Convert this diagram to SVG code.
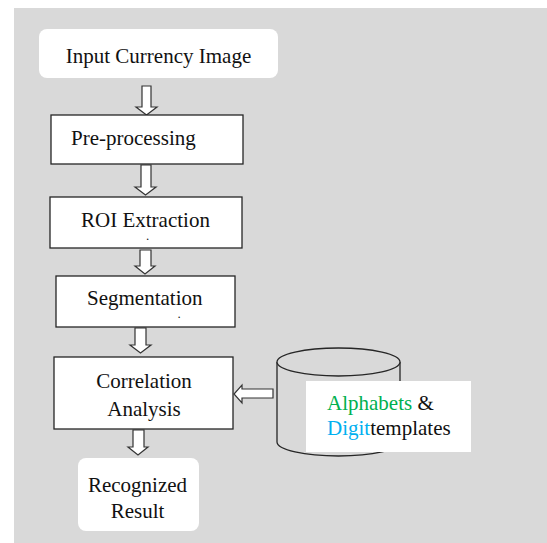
<svg xmlns="http://www.w3.org/2000/svg" width="547" height="543" viewBox="0 0 547 543">
<style>
.box{fill:#fff;stroke:#262626;stroke-width:1.3}
.rbox{fill:#fff;stroke:none}
.arr{fill:#fff;stroke:#333;stroke-width:1.2;stroke-linejoin:miter}
text{font-family:"Liberation Serif","Times New Roman",serif;font-size:21px;fill:#111}
.mid{text-anchor:middle}
.dot{font-size:9px;font-weight:bold}
</style>
<rect x="0" y="0" width="547" height="543" fill="#fff"/>
<rect x="14" y="8" width="533" height="535" fill="#d9d9d9"/>
<g id="connectors">
<path class="arr" d="M142,86 H151 V107 H157 L146.5,115 L136,107 H142 Z"/>
<path class="arr" d="M141,165 H151 V187 H156 L145.5,195 L135,187 H141 Z"/>
<path class="arr" d="M140,250 H151 V266 H155 L145,274 L135,266 H140 Z"/>
<path class="arr" d="M135,328 H146 V345 H151 L140.5,353 L130,345 H135 Z"/>
<path class="arr" d="M133,430 H144 V447 H148 L138,455 L128,447 H133 Z"/>
<path class="arr" d="M273,389 V398 H242 V403 L234,394 L242,385 V389 Z"/>
</g>
<g id="input">
<rect class="rbox" x="39" y="29" width="239" height="49" rx="8"/>
<text class="mid" x="158.5" y="63">Input Currency Image</text>
</g>
<g id="preprocessing">
<rect class="box" x="51" y="115" width="192" height="49"/>
<text x="71" y="145">Pre-processing</text>
</g>
<g id="roi">
<rect class="box" x="50" y="197" width="192" height="51"/>
<text x="81" y="227">ROI Extraction</text>
<text class="dot" x="146.5" y="240">.</text>
</g>
<g id="segmentation">
<rect class="box" x="56" y="276" width="179" height="51"/>
<text x="87" y="305">Segmentation</text>
<text class="dot" x="178" y="318">.</text>
</g>
<g id="correlation">
<rect class="box" x="54" y="357" width="179" height="72"/>
<text class="mid" x="144" y="388">Correlation</text>
<text class="mid" x="144" y="416">Analysis</text>
</g>
<g id="result">
<rect class="rbox" x="78" y="458" width="121" height="73" rx="8"/>
<text class="mid" x="137.5" y="492">Recognized</text>
<text class="mid" x="137.5" y="518">Result</text>
</g>
<g id="templates">
<path d="M277,362 V442 A61.5,14 0 0 0 400,442 V362" fill="#d9d9d9" stroke="#262626" stroke-width="1.3"/>
<ellipse cx="338.5" cy="362" rx="61.5" ry="14" fill="#d9d9d9" stroke="#262626" stroke-width="1.3"/>
<rect x="306" y="381" width="165" height="71" fill="#fff"/>
<text x="327" y="410"><tspan fill="#00b050">Alphabets</tspan> &amp;</text>
<text x="327" y="435"><tspan fill="#00b0f0">Digit</tspan>templates</text>
</g>
</svg>
